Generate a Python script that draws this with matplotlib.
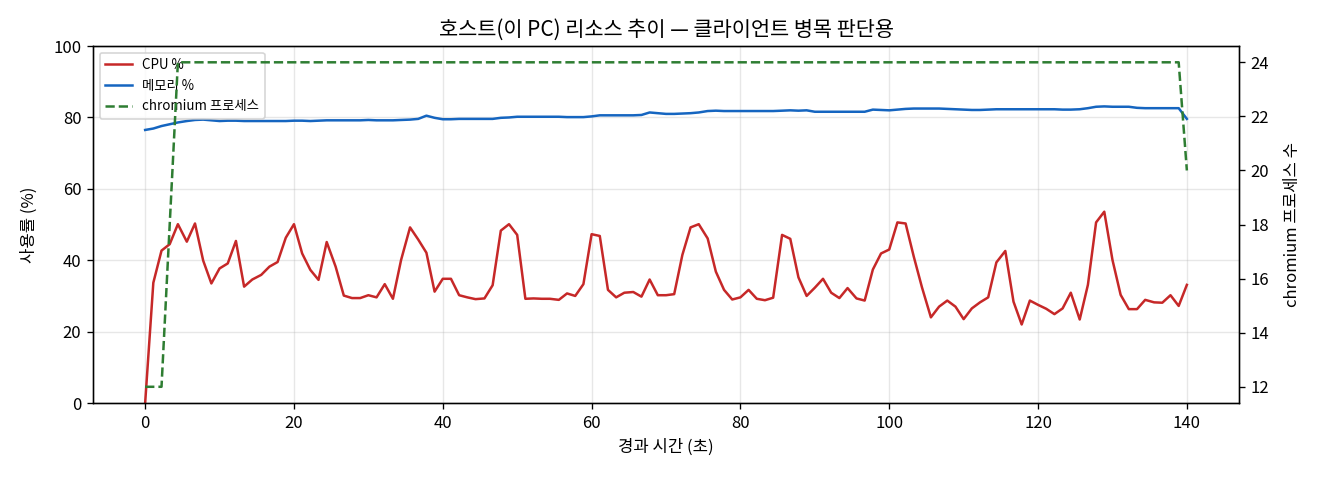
import matplotlib
matplotlib.use("Agg")
import matplotlib.pyplot as plt

plt.rcParams['font.family'] = ['Noto Sans CJK KR', 'DejaVu Sans']
plt.rcParams['axes.unicode_minus'] = False

elapsed = [
    0.0, 1.1, 2.2, 3.3, 4.4, 5.6, 6.7, 7.8, 8.9,
    10.0, 11.1, 12.2, 13.3, 14.4, 15.6, 16.7, 17.8, 18.9,
    20.0, 21.1, 22.2, 23.3, 24.4, 25.6, 26.7, 27.8, 28.9,
    30.0, 31.1, 32.2, 33.3, 34.4, 35.6, 36.7, 37.8, 38.9,
    40.0, 41.1, 42.2, 43.3, 44.4, 45.6, 46.7, 47.8, 48.9,
    50.0, 51.1, 52.2, 53.3, 54.4, 55.6, 56.7, 57.8, 58.9,
    60.0, 61.1, 62.2, 63.3, 64.4, 65.6, 66.7, 67.8, 68.9,
    70.0, 71.1, 72.2, 73.3, 74.4, 75.6, 76.7, 77.8, 78.9,
    80.0, 81.1, 82.2, 83.3, 84.4, 85.6, 86.7, 87.8, 88.9,
    90.0, 91.1, 92.2, 93.3, 94.4, 95.6, 96.7, 97.8, 98.9,
    100.0, 101.1, 102.2, 103.3, 104.4, 105.6, 106.7, 107.8, 108.9,
    110.0, 111.1, 112.2, 113.3, 114.4, 115.6, 116.7, 117.8, 118.9,
    120.0, 121.1, 122.2, 123.3, 124.4, 125.6, 126.7, 127.8, 128.9,
    130.0, 131.1, 132.2, 133.3, 134.4, 135.6, 136.7, 137.8, 138.9,
    140.0,
]

cpu_pct = [
    0.0, 33.7, 42.7, 44.5, 50.1, 45.2, 50.3, 39.9, 33.5, 37.7,
    39.1, 45.4, 32.6, 34.6, 35.9, 38.2, 39.5, 46.3, 50.1, 41.9,
    37.3, 34.5, 45.1, 38.2, 30.1, 29.4, 29.4, 30.2, 29.6, 33.3,
    29.2, 40.1, 49.2, 45.8, 42.1, 31.2, 34.8, 34.8, 30.2, 29.6,
    29.1, 29.3, 33.0, 48.3, 50.1, 47.1, 29.2, 29.3, 29.2, 29.2,
    28.9, 30.7, 30.0, 33.3, 47.3, 46.8, 31.7, 29.6, 30.9, 31.1,
    29.8, 34.6, 30.2, 30.2, 30.5, 41.5, 49.2, 50.1, 46.1, 36.8,
    31.7, 29.0, 29.6, 31.7, 29.2, 28.8, 29.5, 47.1, 46.0, 35.2,
    30.0, 32.3, 34.8, 30.9, 29.4, 32.2, 29.3, 28.7, 37.4, 41.9,
    43.0, 50.6, 50.3, 41.0, 32.4, 24.0, 27.0, 28.7, 27.0, 23.5,
    26.5, 28.2, 29.6, 39.4, 42.6, 28.4, 22.0, 28.7, 27.5, 26.4,
    24.9, 26.5, 30.9, 23.4, 33.1, 50.6, 53.6, 40.1, 30.3, 26.3,
    26.3, 28.9, 28.2, 28.1, 30.2, 27.2, 33.1,
]

mem_pct = [
    76.5, 76.9, 77.6, 78.1, 78.6, 79.0, 79.3, 79.4, 79.2, 79.0,
    79.1, 79.1, 79.0, 79.0, 79.0, 79.0, 79.0, 79.0, 79.1, 79.1,
    79.0, 79.1, 79.2, 79.2, 79.2, 79.2, 79.2, 79.3, 79.2, 79.2,
    79.2, 79.3, 79.4, 79.6, 80.5, 79.9, 79.5, 79.5, 79.6, 79.6,
    79.6, 79.6, 79.6, 79.9, 80.0, 80.2, 80.2, 80.2, 80.2, 80.2,
    80.2, 80.1, 80.1, 80.1, 80.3, 80.6, 80.6, 80.6, 80.6, 80.6,
    80.7, 81.4, 81.2, 81.0, 81.0, 81.1, 81.2, 81.4, 81.8, 81.9,
    81.8, 81.8, 81.8, 81.8, 81.8, 81.8, 81.8, 81.9, 82.0, 81.9,
    82.0, 81.6, 81.6, 81.6, 81.6, 81.6, 81.6, 81.6, 82.2, 82.1,
    82.0, 82.2, 82.4, 82.5, 82.5, 82.5, 82.5, 82.4, 82.3, 82.2,
    82.1, 82.1, 82.2, 82.3, 82.3, 82.3, 82.3, 82.3, 82.3, 82.3,
    82.3, 82.2, 82.2, 82.3, 82.6, 83.0, 83.1, 83.0, 83.0, 83.0,
    82.7, 82.6, 82.6, 82.6, 82.6, 82.6, 79.6,
]

chromium_procs = [12, 12, 12, 18] + [24] * 122 + [20]

fig, ax1 = plt.subplots(figsize=(11, 4), dpi=120)
fig.subplots_adjust(left=0.0705, right=0.9386, bottom=0.1604, top=0.904)

l1, = ax1.plot(elapsed, cpu_pct, color='#c62828', lw=1.5, label='CPU %')
l2, = ax1.plot(elapsed, mem_pct, color='#1565c0', lw=1.5, label='메모리 %')
ax1.set_ylim(0, 100)
ax1.set_xlabel('경과 시간 (초)', fontsize=10)
ax1.set_ylabel('사용률 (%)', fontsize=10, labelpad=9)
ax1.grid(True, alpha=0.3)
ax1.tick_params(labelsize=10)

ax2 = ax1.twinx()
l3, = ax2.plot(elapsed, chromium_procs, color='#2e7d32', lw=1.5, ls='--',
               label='chromium 프로세스')
ax2.set_ylabel('chromium 프로세스 수', fontsize=10, labelpad=9)
ax2.tick_params(labelsize=10)

ax1.legend(handles=[l1, l2, l3], loc='upper left', fontsize=8)
ax1.set_title('호스트(이 PC) 리소스 추이 — 클라이언트 병목 판단용', fontsize=12.5)

fig.savefig('out.png', dpi=120)
